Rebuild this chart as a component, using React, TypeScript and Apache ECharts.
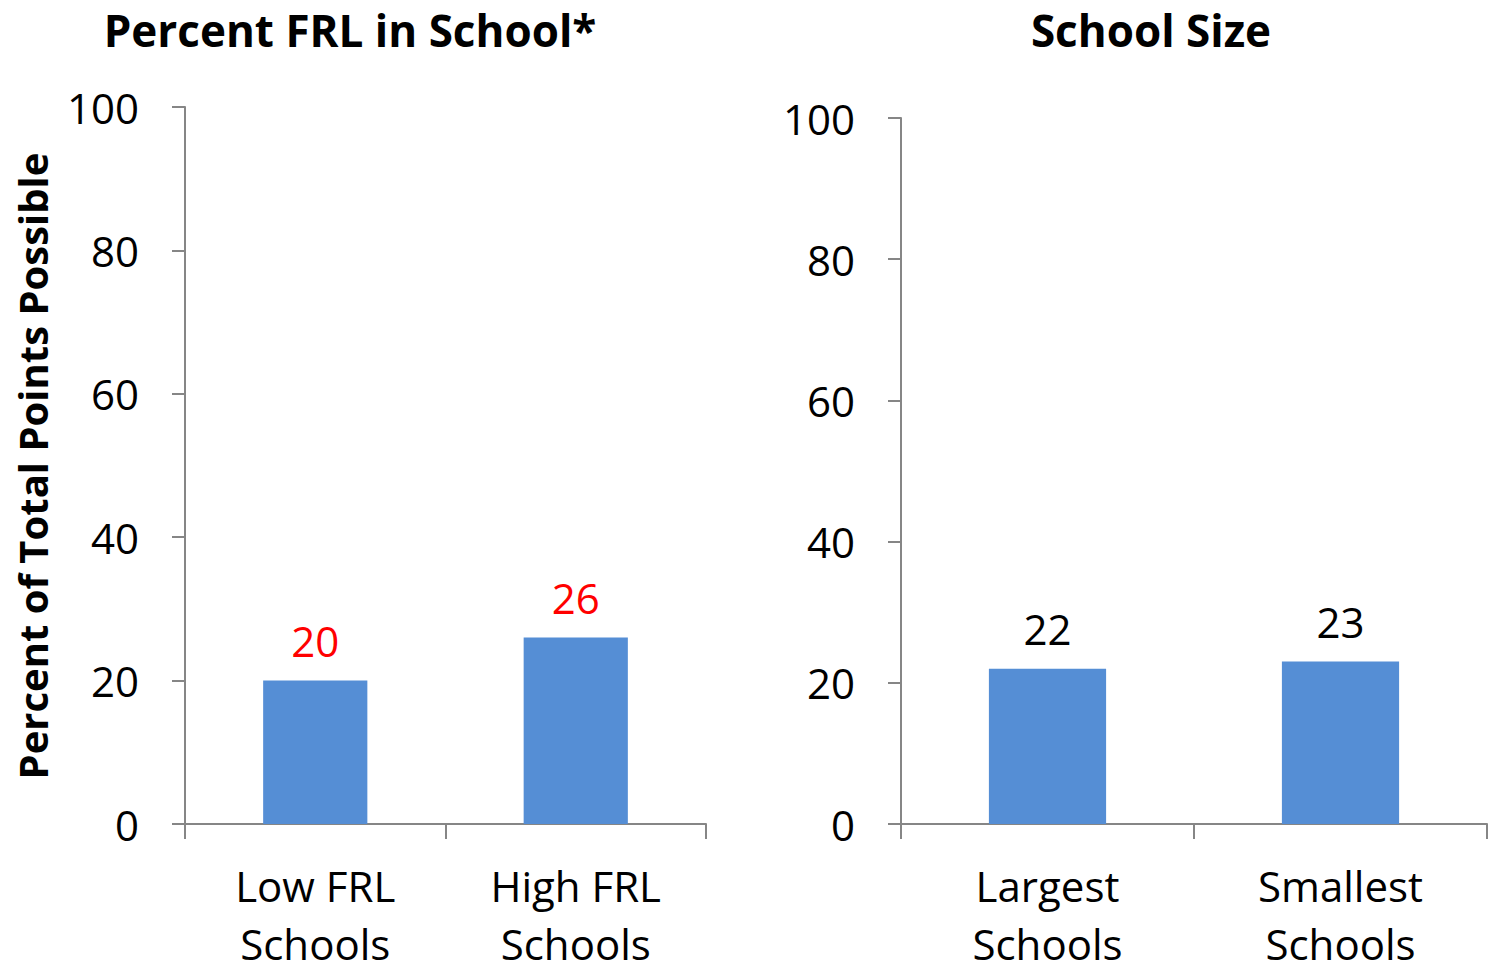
import React, { useEffect, useRef } from "react";
import * as echarts from "echarts";

const leftTitle = "Percent FRL in School*";
const rightTitle = "School Size";
const yAxisTitle = "Percent of Total Points Possible";
const leftCategories = ["Low FRL\nSchools", "High FRL\nSchools"];
const leftValues = [20, 26];
const rightCategories = ["Largest\nSchools", "Smallest\nSchools"];
const rightValues = [22, 23];
const yTicks = { min: 0, max: 100, interval: 20 };

const FONT = "'Open Sans', 'Noto Sans', sans-serif";
const AXIS_COLOR = "#868686";
const BAR_COLOR = "#558ED5";

export default function App() {
  const ref = useRef<HTMLDivElement>(null);
  useEffect(() => {
    if (!ref.current) return;
    const chart = echarts.init(ref.current, null, { renderer: "svg" });
    const yAxisCommon = (gridIndex: number) => ({
      type: "value" as const,
      gridIndex,
      min: yTicks.min,
      max: yTicks.max,
      interval: yTicks.interval,
      axisLine: { show: true, lineStyle: { color: AXIS_COLOR, width: 2 } },
      axisTick: { show: true, length: 13, lineStyle: { color: AXIS_COLOR, width: 2 } },
      splitLine: { show: false },
      axisLabel: { fontSize: 42, color: "#000", fontFamily: FONT, margin: 46 },
    });
    const xAxisCommon = (gridIndex: number, data: string[]) => ({
      type: "category" as const,
      gridIndex,
      data,
      axisLine: { show: true, lineStyle: { color: AXIS_COLOR, width: 2 } },
      axisTick: { show: true, length: 15, lineStyle: { color: AXIS_COLOR, width: 2 } },
      axisLabel: {
        fontSize: 42,
        color: "#000",
        fontFamily: FONT,
        lineHeight: 58,
        margin: 32,
        interval: 0,
      },
    });
    chart.setOption({
      animation: false,
      grid: [
        {
          left: 185,
          right: 1494 - 706,
          top: 107,
          bottom: 963 - 824,
          containLabel: false,
          outerBoundsMode: "none",
        },
        {
          left: 901,
          right: 1494 - 1487,
          top: 118,
          bottom: 963 - 824,
          containLabel: false,
          outerBoundsMode: "none",
        },
      ],
      xAxis: [xAxisCommon(0, leftCategories), xAxisCommon(1, rightCategories)],
      yAxis: [yAxisCommon(0), yAxisCommon(1)],
      series: [
        {
          type: "bar",
          xAxisIndex: 0,
          yAxisIndex: 0,
          data: leftValues,
          barWidth: "40%",
          itemStyle: { color: BAR_COLOR },
          label: {
            show: true,
            position: "top",
            distance: 19,
            fontSize: 42,
            color: "#FF0000",
            fontFamily: FONT,
          },
        },
        {
          type: "bar",
          xAxisIndex: 1,
          yAxisIndex: 1,
          data: rightValues,
          barWidth: "40%",
          itemStyle: { color: BAR_COLOR },
          label: {
            show: true,
            position: "top",
            distance: 19,
            fontSize: 42,
            color: "#000",
            fontFamily: FONT,
          },
        },
      ],
      graphic: [
        {
          type: "text",
          x: 350,
          y: 30,
          style: {
            text: leftTitle,
            fontSize: 44,
            fontWeight: "bold",
            fontFamily: FONT,
            fill: "#000",
            align: "center",
            verticalAlign: "middle",
          },
        },
        {
          type: "text",
          x: 1151,
          y: 30,
          style: {
            text: rightTitle,
            fontSize: 44,
            fontWeight: "bold",
            fontFamily: FONT,
            fill: "#000",
            align: "center",
            verticalAlign: "middle",
          },
        },
        {
          type: "text",
          x: 32,
          y: 466,
          rotation: Math.PI / 2,
          style: {
            text: yAxisTitle,
            fontSize: 40,
            fontWeight: "bold",
            fontFamily: FONT,
            fill: "#000",
            align: "center",
            verticalAlign: "middle",
          },
        },
      ],
    });
    return () => chart.dispose();
  }, []);
  return (
    <div
      ref={ref}
      style={{ position: "fixed", left: 0, top: 0, width: 1494, height: 963, background: "#fff" }}
    />
  );
}
